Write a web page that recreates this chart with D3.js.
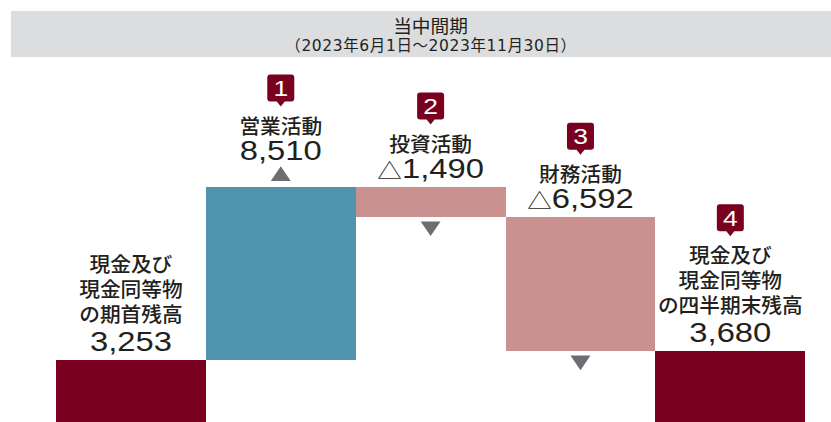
<!DOCTYPE html>
<html lang="ja">
<head>
<meta charset="utf-8">
<title>当中間期</title>
<script src="https://cdn.jsdelivr.net/npm/d3@7"></script>
<style>
    html, body { margin: 0; padding: 0; background: #fff; overflow: hidden; }
    svg { display: block; }
    text { fill: #231f20; text-anchor: middle; }
    .ja { font-family: "Noto Sans CJK JP", sans-serif; }
    .num { font-family: "Liberation Sans", sans-serif; }
    .period { font-family: "DejaVu Sans", "Noto Sans CJK JP", sans-serif; letter-spacing: 0.6px; }
</style>
</head>
<body>
<svg id="chart" width="831" height="422"></svg>
<script>
const title = "当中間期";
const period = "（2023年6月1日～2023年11月30日）";
const categories = [
    ["現金及び", "現金同等物", "の期首残高"],
    ["営業活動"],
    ["投資活動"],
    ["財務活動"],
    ["現金及び", "現金同等物", "の四半期末残高"]
];
const values = [3253, 8510, -1490, -6592, 3680];
const kinds = ["total", "flow", "flow", "flow", "total"];
const markers = ["", "1", "2", "3", "4"];
const colors = { total: "#7a0020", up: "#5094ae", down: "#c99291", arrow: "#6d6e71", header: "#dcddde" };

const svg = d3.select("#chart");

// Waterfall: each flow starts where the previous one ended
let running = 0;
const bars = values.map((v, i) => {
    let y0, y1;
    if (kinds[i] === "total") {
        y0 = 0;
        y1 = v;
        running = v;
    } else {
        y0 = running;
        y1 = running + v;
        running = y1;
    }
    return { i, v, kind: kinds[i], lines: categories[i], marker: markers[i], low: Math.min(y0, y1), high: Math.max(y0, y1) };
});

// Scales
const x = d3.scaleBand()
    .domain(d3.range(values.length))
    .range([56, 805.25]);

const y = d3.scaleLinear()
    .domain([0, d3.max(bars, d => d.high)])
    .range([426.2, 187]);

const fmt = d3.format(",");

// Header band
svg.append("rect")
    .attr("x", 11).attr("y", 11)
    .attr("width", 820).attr("height", 46)
    .attr("fill", colors.header);

svg.append("text")
    .attr("class", "ja")
    .attr("x", 430.5).attr("y", 33)
    .attr("font-size", 18.7)
    .text(title);

svg.append("text")
    .attr("class", "period")
    .attr("x", 431).attr("y", 51)
    .attr("font-size", 15.5)
    .text(period);

// Bars
svg.append("g").selectAll("rect")
    .data(bars)
    .enter().append("rect")
    .attr("x", d => x(d.i))
    .attr("y", d => y(d.high))
    .attr("width", x.bandwidth())
    .attr("height", d => y(d.low) - y(d.high))
    .attr("shape-rendering", "crispEdges")
    .attr("fill", d => d.kind === "total" ? colors.total : (d.v > 0 ? colors.up : colors.down));

// Labels above each bar
const groups = svg.append("g").selectAll("g")
    .data(bars)
    .enter().append("g")
    .attr("transform", d => `translate(${x(d.i) + x.bandwidth() / 2},${y(d.high)})`);

const valueBase = d => (d.kind === "flow" && d.v > 0) ? -27 : -9;
const firstLineBase = d => valueBase(d) - (d.lines.length > 1 ? 29 + 25 * (d.lines.length - 1) : 26.5);

// Value
groups.each(function(d) {
    const t = d3.select(this).append("text")
        .attr("class", "num")
        .attr("font-size", 28)
        .attr("transform", `translate(0,${valueBase(d)}) scale(1.17,1)`);
    if (d.v < 0) {
        t.append("tspan").attr("class", "ja").attr("font-size", 21).text("△");
    }
    t.append("tspan").text(fmt(Math.abs(d.v)));
});

// Category name lines
groups.selectAll("text.cat")
    .data(d => d.lines.map((line, k) => ({ line, k, d })))
    .enter().append("text")
    .attr("class", "cat ja")
    .attr("font-size", 20.7)
    .attr("font-weight", 500)
    .attr("y", e => firstLineBase(e.d) + 25 * e.k)
    .text(e => e.line);

// Numbered badges
const badges = groups.filter(d => d.marker !== "")
    .append("g")
    .attr("transform", d => `translate(0,${firstLineBase(d) - 27})`);

badges.append("path")
    .attr("fill", colors.total)
    .attr("d", "M-10.5,-32H10.5Q13.5,-32 13.5,-29V-8Q13.5,-5 10.5,-5H4L0,0L-4,-5H-10.5Q-13.5,-5 -13.5,-8V-29Q-13.5,-32 -10.5,-32Z");

badges.append("text")
    .attr("class", "num")
    .attr("font-size", 22)
    .attr("transform", "translate(0,-10.5) scale(1.2,1)")
    .style("fill", "#fff")
    .text(d => d.marker);

// Direction arrows
const tri = d3.symbol().type(d3.symbolTriangle).size(173);

svg.append("g").selectAll("path")
    .data(bars.filter(d => d.kind === "flow"))
    .enter().append("path")
    .attr("fill", colors.arrow)
    .attr("transform", d => d.v > 0
        ? `translate(${x(d.i) + x.bandwidth() / 2},${y(d.high) - 11}) scale(1,0.85)`
        : `translate(${x(d.i) + x.bandwidth() / 2},${y(d.low) + 9}) scale(1,-0.85)`)
    .attr("d", tri);
</script>
</body>
</html>
